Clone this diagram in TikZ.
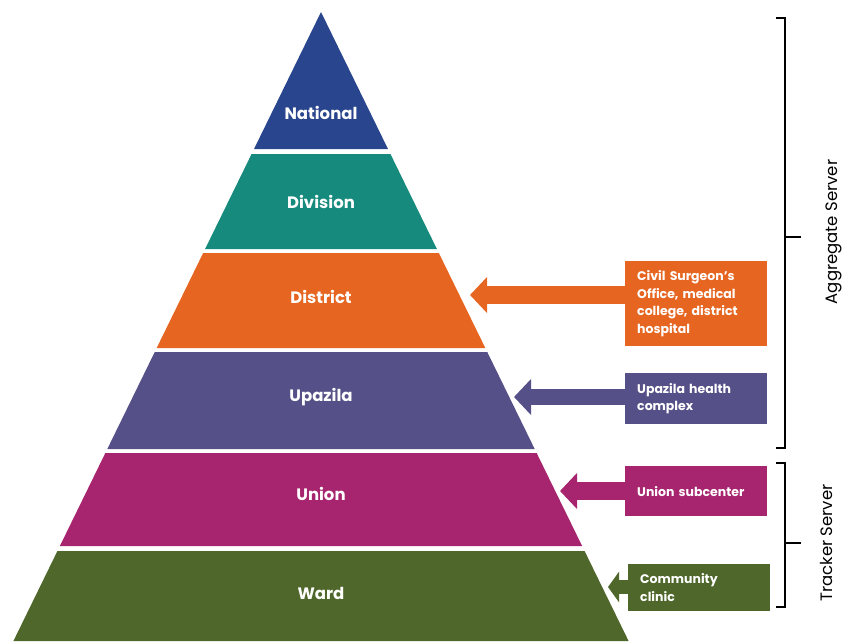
\documentclass[tikz,border=0pt]{standalone}
\usepackage{fontspec}
\setmainfont{Poppins}
\usetikzlibrary{arrows.meta}

\definecolor{national}{RGB}{41,69,141}
\definecolor{division}{RGB}{22,138,124}
\definecolor{district}{RGB}{230,101,32}
\definecolor{upazila}{RGB}{86,80,136}
\definecolor{union}{RGB}{167,36,110}
\definecolor{ward}{RGB}{79,103,42}

\tikzset{
  level/.style={text=white, font=\bfseries\fontsize{16.5}{18}\selectfont},
  facility/.style={fill=#1, text=white, align=left, text width=118pt, inner xsep=12pt,
    anchor=north west, font=\bfseries\fontsize{12.5}{17.5}\selectfont},
  pointer/.style={draw=#1, line width=18pt, -{Triangle[length=17pt,width=35pt]}},
  bracket/.style={line width=2.8pt},
  server/.style={rotate=90, font=\fontsize{16.5}{18}\selectfont}
}

\begin{document}
\begin{tikzpicture}[x=1pt,y=-1pt]
    \useasboundingbox (0,0) rectangle (843,641);
    % pyramid bands: top/bottom/colour/name/label y/text
    \foreach \t/\b/\c/\n/\ly/\s in {12/149/national/nat/113/National,
        154/249/division/div/202/Division, 253/348/district/dis/297/District,
        352/449/upazila/upa/397/Upazila, 453/546/union/uni/494/Union,
        551/641/ward/war/593/Ward}{
        \fill[\c] ({321-0.489*(\t-12)},\t) -- ({321+0.489*(\t-12)},\t)
            -- ({321+0.489*(\b-12)},\b) -- ({321-0.489*(\b-12)},\b) -- cycle;
        \node[level] (\n) at (321,\ly) {\s};
    }

    % facilities
    \node[facility=district, minimum height=85pt] (civil) at (625,261)
        {Civil Surgeon's\\Office, medical\\college, district\\hospital};
    \node[facility=upazila, minimum height=51pt] (uhc) at (625,373)
        {Upazila health\\complex};
    \node[facility=union, minimum height=50pt] (usc) at (625,466)
        {Union subcenter};
    \node[facility=ward, minimum height=47pt] (cc) at (628,564)
        {Community\\clinic};

    \coordinate (disTip) at (470,295);
    \coordinate (upaTip) at (514,397);
    \coordinate (uniTip) at (560,491);
    \coordinate (warTip) at (608,587);
    \draw[pointer=district] (civil.west |- disTip) -- (disTip);
    \draw[pointer=upazila, line width=16pt] (uhc.west |- upaTip) -- (upaTip);
    \draw[pointer=union] (usc.west |- uniTip) -- (uniTip);
    \draw[pointer=ward, line width=14pt, -{Triangle[length=11pt,width=30pt]}] (cc.west |- warTip) -- (warTip);

    % servers
    \draw[bracket] (776,18) -- (785,18) -- (785,448) -- (776,448);
    \draw[bracket] (785,237) -- (801,237);
    \draw[bracket] (776,463) -- (785,463) -- (785,607) -- (776,607);
    \draw[bracket] (785,543) -- (801,543);
    \node[server] (agg) at (834,232) {Aggregate Server};
    \node[server] (trk) at (826,543) {Tracker Server};
\end{tikzpicture}
\end{document}
